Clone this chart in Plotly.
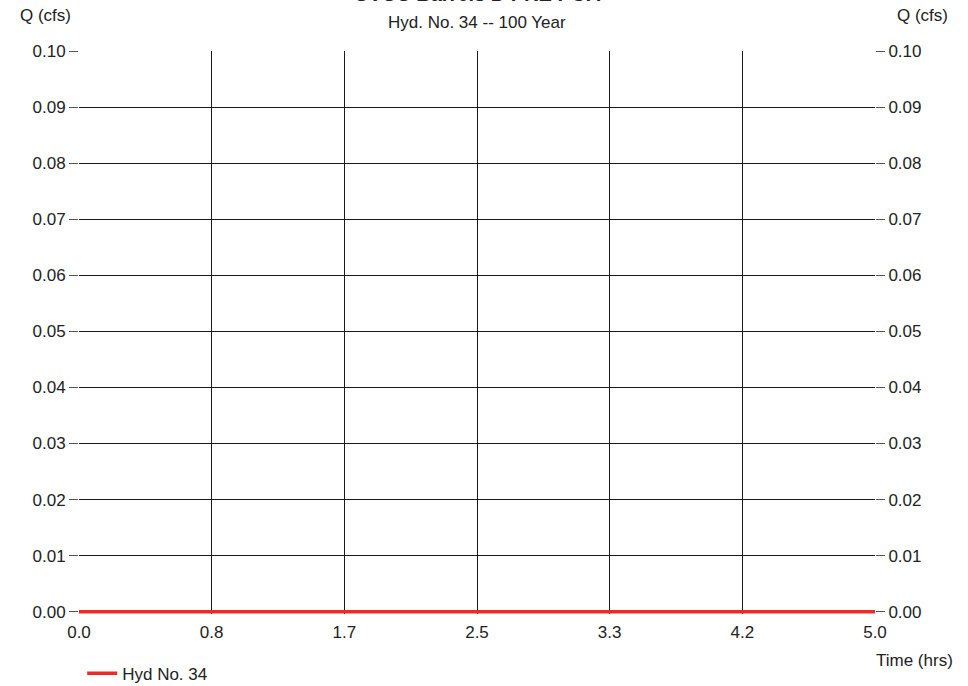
import plotly.graph_objects as go

# Hydrograph ordinates (time in hours, discharge in cfs)
time_hrs = [0.0, 0.5, 1.0, 1.5, 2.0, 2.5, 3.0, 3.5, 4.0, 4.5, 5.0]
flow_cfs = [0.0, 0.0, 0.0, 0.0, 0.0, 0.0, 0.0, 0.0, 0.0, 0.0, 0.0]

# Axis tick labels
x_tick_labels = ["0.0", "0.8", "1.7", "2.5", "3.3", "4.2", "5.0"]
x_tick_values = [0.0, 5 / 6, 10 / 6, 2.5, 20 / 6, 25 / 6, 5.0]
y_tick_values = [0.00, 0.01, 0.02, 0.03, 0.04, 0.05, 0.06, 0.07, 0.08, 0.09, 0.10]

FONT = "Liberation Sans, Arial, sans-serif"
TXT = "#222222"
GRID = "#1a1a1a"
FS = 17

fig = go.Figure()
fig.add_trace(go.Scatter(
    x=time_hrs, y=flow_cfs, mode="lines", name="Hyd No. 34",
    line=dict(color="#ee2a24", width=3.5),
))
# invisible trace to carry the right-hand axis
fig.add_trace(go.Scatter(
    x=time_hrs, y=flow_cfs, mode="lines", yaxis="y2", showlegend=False,
    line=dict(color="rgba(0,0,0,0)", width=0), hoverinfo="skip",
))

y_range = [-0.0004, 0.1]
yaxis_common = dict(
    range=y_range, tickvals=y_tick_values, tickformat=".2f",
    ticks="outside", ticklen=9, tickwidth=1, tickcolor="#555555",
    tickfont=dict(family=FONT, size=FS, color=TXT),
    zeroline=False, showline=False, fixedrange=True,
)

fig.update_layout(
    width=968, height=686,
    margin=dict(l=79, r=93, t=51, b=72, autoexpand=False),
    paper_bgcolor="white", plot_bgcolor="white",
    showlegend=True,
    legend=dict(
        orientation="h", x=0.004, y=-0.074, xanchor="left", yanchor="top",
        font=dict(family=FONT, size=FS, color=TXT), bgcolor="rgba(0,0,0,0)",
    ),
    xaxis=dict(
        range=[0, 5], tickvals=x_tick_values, ticktext=x_tick_labels,
        showgrid=True, gridcolor=GRID, gridwidth=1,
        ticks="", zeroline=False, showline=False, ticklabelstandoff=6,
        tickfont=dict(family=FONT, size=FS, color=TXT),
    ),
    yaxis=dict(showgrid=True, gridcolor=GRID, gridwidth=1, side="left", **yaxis_common),
    yaxis2=dict(overlaying="y", side="right", showgrid=False, **yaxis_common),
    annotations=[
        dict(text="<b>CVCC Barrels D PRE POA</b>", xref="paper", yref="paper",
             x=0.5, y=1.0, yshift=44, xanchor="center", yanchor="bottom",
             showarrow=False, font=dict(family=FONT, size=20, color=TXT)),
        dict(text="Hyd. No. 34 -- 100 Year", xref="paper", yref="paper",
             x=0.5, y=1.0, yshift=17, xanchor="center", yanchor="bottom",
             showarrow=False, font=dict(family=FONT, size=FS, color=TXT)),
        dict(text="Q (cfs)", xref="paper", yref="paper",
             x=0.0, xshift=-34, y=1.0, yshift=24, xanchor="center", yanchor="bottom",
             showarrow=False, font=dict(family=FONT, size=FS, color=TXT)),
        dict(text="Q (cfs)", xref="paper", yref="paper",
             x=1.0, xshift=47, y=1.0, yshift=24, xanchor="center", yanchor="bottom",
             showarrow=False, font=dict(family=FONT, size=FS, color=TXT)),
        dict(text="Time (hrs)", xref="paper", yref="paper",
             x=1.0, xshift=39, y=0.0, yshift=-46, xanchor="center", yanchor="middle",
             showarrow=False, font=dict(family=FONT, size=FS, color=TXT)),
    ],
)

fig.write_html("out.html")
